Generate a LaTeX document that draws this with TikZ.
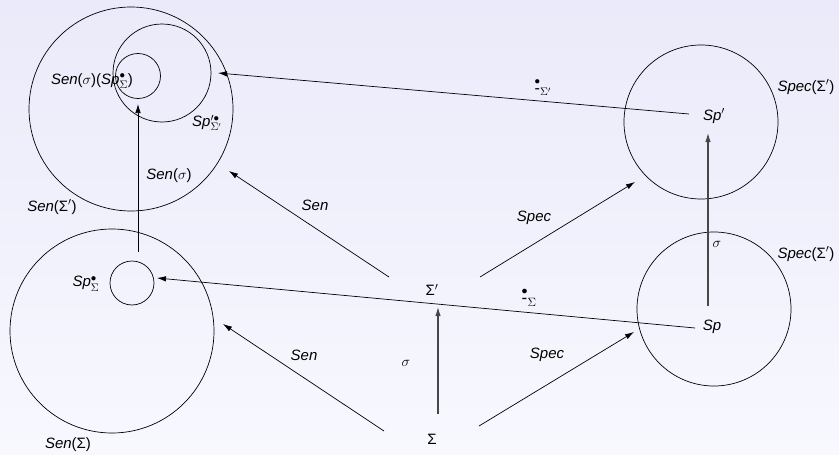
\documentclass[tikz,border=0pt]{standalone}
\usepackage{fontspec}
\setmainfont{Liberation Sans}
\usepackage{amsmath}
\usetikzlibrary{arrows.meta}
\definecolor{bgtop}{RGB}{234,234,250}
\definecolor{bgbot}{RGB}{248,248,255}
\newcommand{\dotsub}[1]{\ensuremath{\stackrel{\bullet}{\text{-}}_{#1}}}
\begin{document}
\begin{tikzpicture}[x=1pt,y=-1pt,
  font=\fontsize{15}{18}\selectfont,
  line width=0.7pt,
  ring/.style={draw, circle, inner sep=0pt},
  lbl/.style={inner sep=0pt},
  arr/.style={-{Latex[length=9pt,width=5.5pt]}},
  garr/.style={arr, draw=black!72, line width=1.1pt}]
\shade[top color=bgtop, bottom color=bgbot] (0,0) rectangle (839,455);
\useasboundingbox (0,0) rectangle (839,455);

% circles
\node[ring, minimum size=204pt] (senSp) at (131,109) {};
\node[ring, minimum size=98pt]  (spps)  at (162,73) {};
\node[ring, minimum size=45pt]  (sensig) at (138,76) {};
\node[ring, minimum size=204pt] (sen)   at (112,331) {};
\node[ring, minimum size=44pt]  (sps)   at (132,283) {};
\node[ring, minimum size=154pt] (specp) at (701,122) {};
\node[ring, minimum size=154pt] (spec)  at (714,309) {};

% labels
\node[lbl] (lsensig) at (92,81) {\textit{Sen}($\sigma$)(\textit{Sp}$^{\bullet}_{\Sigma}$)};
\node[lbl] (lspps) at (207,123) {\textit{Sp}$'^{\bullet}_{\Sigma'}$};
\node[lbl] (lsens) at (169,176) {\textit{Sen}($\sigma$)};
\node[lbl] (lsenSp) at (52,207) {\textit{Sen}(Σ$'$)};
\node[lbl] (lsps) at (86,284) {\textit{Sp}$^{\bullet}_{\Sigma}$};
\node[lbl] (lsen) at (68,445) {\textit{Sen}(Σ)};
\node[lbl] (Sig) at (432,439) {Σ};
\node[lbl] (Sigp) at (432,290) {Σ$'$};
\node[lbl] (sig) at (406,363) {$\sigma$};
\node[lbl] (sigr) at (717,244) {$\sigma$};
\node[lbl] (Sp) at (712,327) {\textit{Sp}};
\node[lbl] (Spp) at (714,116) {\textit{Sp}$'$};
\node[lbl] (lspecp) at (806,87) {\textit{Spec}(Σ$'$)};
\node[lbl] (lspec) at (806,254) {\textit{Spec}(Σ$'$)};
\node[lbl] (lsenlo) at (304,355) {\textit{Sen}};
\node[lbl] (lspeclo) at (547,355) {\textit{Spec}};
\node[lbl] (lsenup) at (315,205) {\textit{Sen}};
\node[lbl] (lspecup) at (534,218) {\textit{Spec}};
\node[lbl] (lsat) at (529,297) {\fontsize{17}{20}\selectfont\dotsub{\Sigma}};
\node[lbl] (lsatp) at (543,87) {\fontsize{16}{19}\selectfont\dotsub{\Sigma'}};

% connector ends
\coordinate (t1) at (689,114); \coordinate (h1) at (218,73);
\coordinate (t2) at (695,328); \coordinate (h2) at (157,278);
\coordinate (t3) at (384,431); \coordinate (h3) at (223,324);
\coordinate (t4) at (479,426); \coordinate (h4) at (634,332);
\coordinate (t5) at (389,277); \coordinate (h5) at (229,171);
\coordinate (t6) at (480,277); \coordinate (h6) at (635,182);
\coordinate (t7) at (438,414); \coordinate (h7) at (438,307);
\coordinate (t8) at (708,306); \coordinate (h8) at (708,133);
\coordinate (t9) at (138,252); \coordinate (h9) at (138,104);

\draw[arr] (t1) -- (h1);
\draw[arr] (t2) -- (h2);
\draw[arr] (t3) -- (h3);
\draw[arr] (t4) -- (h4);
\draw[arr] (t5) -- (h5);
\draw[arr] (t6) -- (h6);
\draw[garr] (t7) -- (h7);
\draw[garr] (t8) -- (h8);
\draw[arr] (t9) -- (h9);
\end{tikzpicture}
\end{document}
